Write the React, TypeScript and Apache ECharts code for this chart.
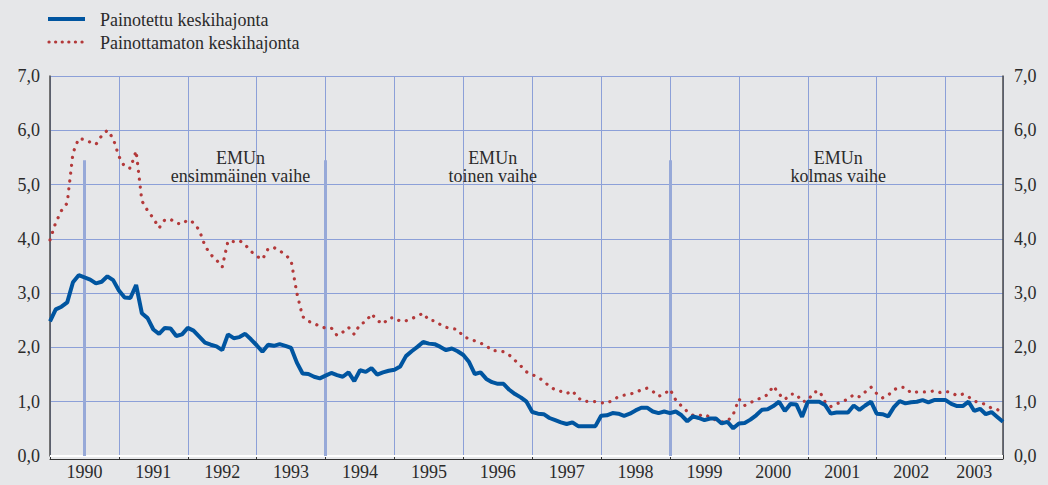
import React, { useEffect, useRef } from 'react';
import * as echarts from 'echarts';

const years = ['1990', '1991', '1992', '1993', '1994', '1995', '1996', '1997', '1998', '1999', '2000', '2001', '2002', '2003'];
const seriesNames = ['Painotettu keskihajonta', 'Painottamaton keskihajonta'];

// monthly, Jan 1990 .. Nov 2003
const weighted = [
  2.48, 2.70, 2.75, 2.83, 3.20, 3.33, 3.29, 3.25, 3.18, 3.21, 3.31, 3.24,
  3.05, 2.92, 2.91, 3.15, 2.63, 2.54, 2.33, 2.25, 2.36, 2.35, 2.21, 2.24,
  2.36, 2.31, 2.20, 2.09, 2.05, 2.02, 1.95, 2.24, 2.17, 2.19, 2.25, 2.15,
  2.04, 1.92, 2.05, 2.03, 2.06, 2.03, 1.99, 1.72, 1.52, 1.51, 1.46, 1.43,
  1.48, 1.53, 1.49, 1.46, 1.54, 1.38, 1.58, 1.55, 1.62, 1.50, 1.54, 1.57,
  1.59, 1.65, 1.84, 1.93, 2.01, 2.10, 2.07, 2.06, 2.01, 1.95, 1.98, 1.93,
  1.86, 1.73, 1.51, 1.54, 1.42, 1.36, 1.33, 1.33, 1.22, 1.14, 1.08, 1.00,
  0.81, 0.78, 0.77, 0.70, 0.66, 0.62, 0.59, 0.62, 0.55, 0.55, 0.55, 0.55,
  0.74, 0.75, 0.79, 0.78, 0.74, 0.78, 0.84, 0.89, 0.89, 0.82, 0.79, 0.82,
  0.79, 0.82, 0.75, 0.64, 0.73, 0.70, 0.66, 0.69, 0.69, 0.60, 0.63, 0.51,
  0.60, 0.61, 0.67, 0.75, 0.85, 0.86, 0.92, 1.00, 0.83, 0.96, 0.95, 0.72,
  1.00, 1.00, 1.00, 0.94, 0.78, 0.80, 0.80, 0.80, 0.93, 0.85, 0.93, 1.00,
  0.78, 0.77, 0.73, 0.90, 1.01, 0.97, 0.99, 1.00, 1.03, 0.99, 1.03, 1.03,
  1.03, 0.96, 0.92, 0.92, 1.00, 0.83, 0.87, 0.77, 0.81, 0.72, 0.63,
];

const unweighted = [
  3.98, 4.30, 4.52, 4.66, 5.58, 5.85, 5.83, 5.78, 5.74, 5.90, 6.00, 5.85,
  5.52, 5.33, 5.30, 5.62, 4.70, 4.52, 4.38, 4.20, 4.35, 4.36, 4.29, 4.27,
  4.35, 4.30, 4.16, 3.87, 3.71, 3.61, 3.48, 3.96, 3.95, 3.97, 3.89, 3.77,
  3.68, 3.62, 3.82, 3.84, 3.78, 3.71, 3.60, 3.00, 2.57, 2.48, 2.45, 2.38,
  2.36, 2.36, 2.22, 2.28, 2.37, 2.24, 2.43, 2.47, 2.62, 2.50, 2.43, 2.54,
  2.55, 2.48, 2.49, 2.53, 2.58, 2.63, 2.50, 2.49, 2.42, 2.37, 2.35, 2.33,
  2.20, 2.16, 2.12, 2.08, 2.03, 1.94, 1.94, 1.92, 1.86, 1.76, 1.66, 1.55,
  1.50, 1.45, 1.38, 1.28, 1.22, 1.19, 1.15, 1.20, 1.07, 1.00, 1.01, 1.00,
  0.98, 0.97, 1.03, 1.09, 1.12, 1.14, 1.17, 1.22, 1.25, 1.19, 1.10, 1.14,
  1.23, 1.03, 0.92, 0.82, 0.75, 0.74, 0.77, 0.71, 0.66, 0.63, 0.64, 0.76,
  1.05, 0.93, 0.98, 1.04, 1.07, 1.13, 1.29, 1.14, 1.04, 1.14, 1.14, 1.00,
  1.02, 1.17, 1.20, 1.00, 0.91, 0.96, 1.00, 1.05, 1.13, 1.09, 1.18, 1.27,
  1.15, 1.07, 1.12, 1.22, 1.27, 1.26, 1.16, 1.18, 1.18, 1.18, 1.20, 1.17,
  1.19, 1.17, 1.11, 1.14, 1.09, 1.01, 0.98, 0.95, 0.88, 0.86, 0.76,
];

const yMin = 0;
const yMax = 7;
const yStep = 1;
const monthsPerYear = 12;

// EMU phases: start month index (Jul 1990, Jan 1994, Jan 1999)
const phaseStarts = [6, 48, 108];
const phaseMarkerTop = 5.45;
const phaseLabels = ['EMUn\nensimmäinen vaihe', 'EMUn\ntoinen vaihe', 'EMUn\nkolmas vaihe'];
const phaseLabelX = [33.2, 77.1, 137.3];
const phaseLabelY = 5.33;

const FONT = '"Liberation Serif", "Times New Roman", serif';
const FS = 18;
const BLUE = '#0055a0';
const RED = '#b3393a';
const GRID = '#8ca0d8';
const TEXT = '#2b2b2b';

export default function App() {
  const ref = useRef<HTMLDivElement>(null);
  useEffect(() => {
    document.body.style.margin = '0';
    const chart = echarts.init(ref.current!, undefined, { renderer: 'svg' });
    const last = weighted.length - 1;
    const labelCenters = years.map((_, k) => {
      const s = k * monthsPerYear;
      const e = Math.min(s + monthsPerYear, last);
      return (s + e) / 2;
    });
    const yLabel = (v: number) => v.toFixed(1).replace('.', ',');
    const yAxisCommon = {
      type: 'value',
      min: yMin,
      max: yMax,
      interval: yStep,
      axisTick: { show: false },
      axisLine: { show: true, lineStyle: { color: '#4a4a4a', width: 1.5 } },
      axisLabel: { formatter: yLabel, fontFamily: FONT, fontSize: FS, color: TEXT },
    };
    chart.setOption({
      animation: false,
      backgroundColor: '#e6e7e9',
      grid: { left: 50, right: 45, top: 76, bottom: 29, containLabel: false },
      xAxis: {
        type: 'value',
        min: 0,
        max: last,
        interval: monthsPerYear,
        offset: 3,
        axisLine: { show: true, onZero: false, lineStyle: { color: '#333', width: 1 } },
        axisTick: { show: true, inside: true, length: 4, lineStyle: { color: '#333' } },
        splitLine: { show: true, lineStyle: { color: GRID, width: 1 } },
        axisLabel: {
          customValues: labelCenters,
          formatter: (v: number) => years[Math.floor(v / monthsPerYear)] ?? '',
          fontFamily: FONT,
          fontSize: FS,
          color: TEXT,
          margin: 4,
        },
      },
      yAxis: [
        {
          ...yAxisCommon,
          position: 'left',
          splitLine: { show: true, lineStyle: { color: GRID, width: 1 } },
          axisLabel: { ...yAxisCommon.axisLabel, margin: 10 },
        },
        {
          ...yAxisCommon,
          position: 'right',
          splitLine: { show: false },
          axisLabel: { ...yAxisCommon.axisLabel, margin: 11 },
        },
      ],
      graphic: [
        { type: 'line', shape: { x1: 48, y1: 19, x2: 85, y2: 19 }, style: { stroke: BLUE, lineWidth: 4 } },
        { type: 'text', x: 100, y: 20, style: { text: seriesNames[0], font: `${FS}px ${FONT}`, fill: TEXT, verticalAlign: 'middle' } },
        { type: 'line', shape: { x1: 49, y1: 42, x2: 83, y2: 42 }, style: { stroke: RED, lineWidth: 3.2, lineDash: [0.1, 6.5], lineCap: 'round' } },
        { type: 'text', x: 100, y: 43, style: { text: seriesNames[1], font: `${FS}px ${FONT}`, fill: TEXT, verticalAlign: 'middle' } },
      ],
      series: [
        {
          name: 'markers',
          type: 'line',
          data: [],
          z: 1,
          silent: true,
          markLine: {
            silent: true,
            symbol: 'none',
            z: 1,
            label: { show: false },
            data: [
              [
                { coord: [0, 0], lineStyle: { color: '#ffffff', width: 2, type: 'solid' } },
                { coord: [last, 0] },
              ],
              ...phaseStarts.map((p) => [
                { coord: [p, yMin], lineStyle: { color: '#97a9d8', width: 3, type: 'solid' } },
                { coord: [p, phaseMarkerTop] },
              ]),
            ],
          },
          markPoint: {
            silent: true,
            symbol: 'rect',
            symbolSize: 1,
            itemStyle: { color: 'rgba(0,0,0,0)' },
            label: {
              show: true,
              position: 'inside',
              formatter: '{b}',
              fontFamily: FONT,
              fontSize: FS,
              lineHeight: 18,
              color: TEXT,
              align: 'center',
            },
            data: phaseLabels.map((t, i) => ({ name: t, coord: [phaseLabelX[i], phaseLabelY] })),
          },
        },
        {
          name: seriesNames[1],
          type: 'line',
          z: 2,
          showSymbol: false,
          symbol: 'none',
          data: unweighted.map((v, i) => [i, v]),
          lineStyle: { color: RED, width: 3.2, type: [0.1, 7.8], cap: 'round' },
        },
        {
          name: seriesNames[0],
          type: 'line',
          z: 3,
          showSymbol: false,
          symbol: 'none',
          data: weighted.map((v, i) => [i, v]),
          lineStyle: { color: BLUE, width: 4 },
        },
      ],
    });
    return () => chart.dispose();
  }, []);
  return <div ref={ref} style={{ position: 'absolute', left: 0, top: 0, width: 1048, height: 485 }} />;
}
